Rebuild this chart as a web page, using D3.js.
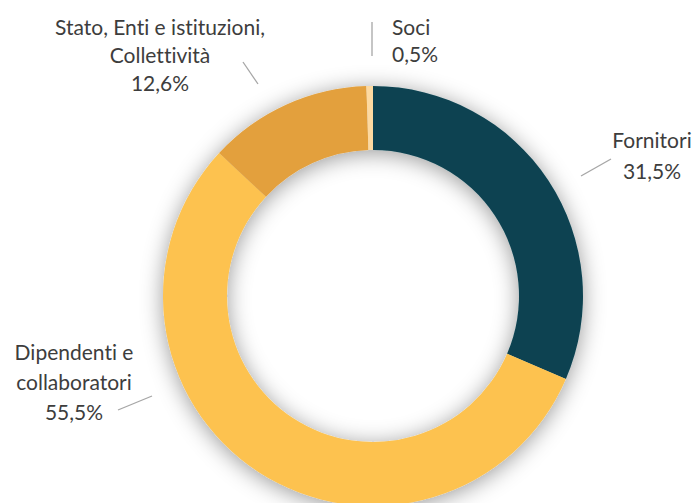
<!DOCTYPE html>
<html><head><meta charset="utf-8">
<script src="https://cdn.jsdelivr.net/npm/d3@7"></script>
<style>
html,body{margin:0;padding:0;background:#fff;}
svg{display:block;}
text{font-family:Lato, "Open Sans", sans-serif;fill:#3d3d3d;font-variant-ligatures:none;font-feature-settings:"liga" 0, "clig" 0;}
</style></head><body>
<svg id="chart" width="696" height="503"></svg>
<script>
// data
const categories = ["Fornitori", "Dipendenti e collaboratori", "Stato, Enti e istituzioni, Collettività", "Soci"];
const values = [31.5, 55.5, 12.6, 0.5];
const valueLabels = ["31,5%", "55,5%", "12,6%", "0,5%"];
const labelLines = [["Fornitori"], ["Dipendenti e", "collaboratori"], ["Stato, Enti e istituzioni,", "Collettività"], ["Soci"]];
const colors = ["#0b4351", "#fdc24f", "#e3a03d", "#fdd9a0"];

// layout
const W = 696, H = 503;
const cx = 373, cy = 296, rOuter = 210, rInner = 146;
// label layout relative to chart centre: anchor, text x/y of first baseline, line height, leader endpoints
const labelLayout = [
  {anchor:"middle", x:279, y:-148, lh:31, leader:[[208,-120],[238,-137]]},
  {anchor:"middle", x:-299, y:64,  lh:30, leader:[[-255,114],[-221,100]]},
  {anchor:"middle", x:-213, y:-261, lh:28, leader:[[-115,-212],[-130,-234]]},
  {anchor:"start",  x:19,  y:-261, lh:27, leader:[[-1,-240],[-1,-274]]}
];

const svg = d3.select("#chart");
const defs = svg.append("defs");
const f = defs.append("filter").attr("id","shadow").attr("x","-30%").attr("y","-30%").attr("width","160%").attr("height","160%");
f.append("feDropShadow").attr("dx",0).attr("dy",3).attr("stdDeviation",11).attr("flood-color","#000").attr("flood-opacity",0.4);

const g = svg.append("g").attr("transform",`translate(${cx},${cy})`);
const pie = d3.pie().sort(null).value(d => d)(values);
const arc = d3.arc().innerRadius(rInner).outerRadius(rOuter);

g.append("g").attr("filter","url(#shadow)")
  .selectAll("path").data(pie).join("path")
  .attr("d", arc).attr("fill", (d,i) => colors[i]);

labelLayout.forEach((L,i) => {
  g.append("line")
    .attr("x1",L.leader[0][0]).attr("y1",L.leader[0][1])
    .attr("x2",L.leader[1][0]).attr("y2",L.leader[1][1])
    .attr("stroke","#a6a6a6").attr("stroke-width",1.3);
  const t = g.append("text").attr("text-anchor",L.anchor).attr("font-size",21);
  const lines = labelLines[i].concat([valueLabels[i]]);
  lines.forEach((s,j) => {
    t.append("tspan").attr("x",L.x).attr("y",L.y + j*L.lh).text(s);
  });
});
</script>
</body></html>
